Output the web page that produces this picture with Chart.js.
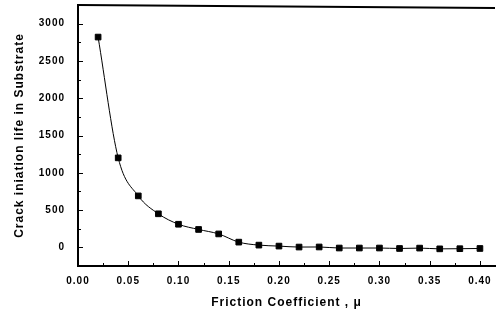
<!DOCTYPE html>
<html>
<head>
    <script src="https://cdn.jsdelivr.net/npm/chart.js"></script>
    <style>
        * { margin: 0; padding: 0; }
        body { background: white; width: 500px; height: 311px; overflow: hidden; }
        #wrap { position: relative; width: 500px; height: 311px; }
    </style>
</head>
<body>
    <div id="wrap"><canvas id="chart"></canvas></div>
    <script>
        // friction coefficient values (x) and crack initiation life (y)
        const mu = [0.02, 0.04, 0.06, 0.08, 0.10, 0.12, 0.14, 0.16, 0.18, 0.20,
                    0.22, 0.24, 0.26, 0.28, 0.30, 0.32, 0.34, 0.36, 0.38, 0.40];
        const life = [2820, 1200, 690, 450, 310, 240, 180, 70, 30, 17,
                      4, 5, -9, -9, -9, -15, -10, -20, -18, -15];
        const xTicks = [0.00, 0.05, 0.10, 0.15, 0.20, 0.25, 0.30, 0.35, 0.40];
        const yTicks = [0, 500, 1000, 1500, 2000, 2500, 3000];

        const tickFont = { family: 'Liberation Sans', size: 10, weight: 'bold' };

        // scanned-print look: slightly spaced letters
        const spacing = {
            id: 'spacing',
            beforeLayout(chart) { chart.ctx.letterSpacing = '1px'; },
            beforeDraw(chart) { chart.ctx.letterSpacing = '1px'; }
        };

        // inward major + minor ticks and the top frame line
        const frameTicks = {
            id: 'frameTicks',
            afterDraw(chart) {
                const ctx = chart.ctx;
                const a = chart.chartArea;
                const xs = chart.scales.x, ys = chart.scales.y;
                ctx.save();
                ctx.strokeStyle = '#000';
                ctx.lineWidth = 1;
                ctx.beginPath();
                xTicks.forEach(v => {
                    const px = Math.round(xs.getPixelForValue(v)) + 0.5;
                    ctx.moveTo(px, a.bottom); ctx.lineTo(px, a.bottom - 5);
                    if (v + 0.025 < xs.max) {
                        const mx = Math.round(xs.getPixelForValue(v + 0.025)) + 0.5;
                        ctx.moveTo(mx, a.bottom); ctx.lineTo(mx, a.bottom - 3);
                    }
                });
                yTicks.forEach(v => {
                    const py = Math.round(ys.getPixelForValue(v)) + 0.5;
                    ctx.moveTo(a.left, py); ctx.lineTo(a.left + 5, py);
                    [-250, 250].forEach(d => {
                        const w = v + d;
                        if (w > ys.min && w < ys.max && (d > 0 || v === 0)) {
                            const my = Math.round(ys.getPixelForValue(w)) + 0.5;
                            ctx.moveTo(a.left, my); ctx.lineTo(a.left + 3, my);
                        }
                    });
                });
                ctx.stroke();
                ctx.lineWidth = 2;
                ctx.beginPath();
                ctx.moveTo(a.left, a.top); ctx.lineTo(a.right, a.top + 3);
                ctx.stroke();
                ctx.restore();
            }
        };

        new Chart(document.getElementById('chart'), {
            type: 'line',
            data: {
                datasets: [{
                    data: mu.map((m, i) => ({ x: m, y: life[i] })),
                    borderColor: '#000',
                    borderWidth: 1,
                    backgroundColor: '#000',
                    pointStyle: 'rect',
                    pointRadius: 4,
                    cubicInterpolationMode: 'monotone'
                }]
            },
            options: {
                responsive: true,
                maintainAspectRatio: false,
                animation: false,
                layout: { padding: { top: 5, right: 2 } },
                plugins: { legend: { display: false }, tooltip: { enabled: false } },
                scales: {
                    x: {
                        type: 'linear',
                        min: 0,
                        max: 0.415,
                        afterBuildTicks: s => { s.ticks = xTicks.map(v => ({ value: v })); },
                        afterFit: s => { s.height = 45; s.paddingLeft = 0; s.paddingRight = 0; },
                        grid: { display: false },
                        border: { color: '#000', width: 2 },
                        ticks: {
                            color: '#000',
                            font: tickFont,
                            padding: 1,
                            maxRotation: 0,
                            callback: v => v.toFixed(2)
                        },
                        title: {
                            display: true,
                            text: 'Friction Coefficient , \u03bc',
                            color: '#000',
                            font: { family: 'Liberation Sans', size: 12, weight: 'bold' },
                            padding: { top: 12, bottom: 1 }
                        }
                    },
                    y: {
                        min: -250,
                        max: 3250,
                        afterBuildTicks: s => { s.ticks = yTicks.map(v => ({ value: v })); },
                        afterFit: s => { s.width = 78; s.paddingTop = 0; s.paddingBottom = 0; },
                        grid: { display: false },
                        border: { color: '#000', width: 2 },
                        ticks: { color: '#000', font: tickFont, padding: 5, callback: v => String(v) },
                        title: {
                            display: true,
                            text: 'Crack iniation life in Substrate',
                            color: '#000',
                            font: { family: 'Liberation Sans', size: 12, weight: 'bold' },
                            padding: { top: 12, bottom: 4 }
                        }
                    }
                }
            },
            plugins: [spacing, frameTicks]
        });
    </script>
</body>
</html>
